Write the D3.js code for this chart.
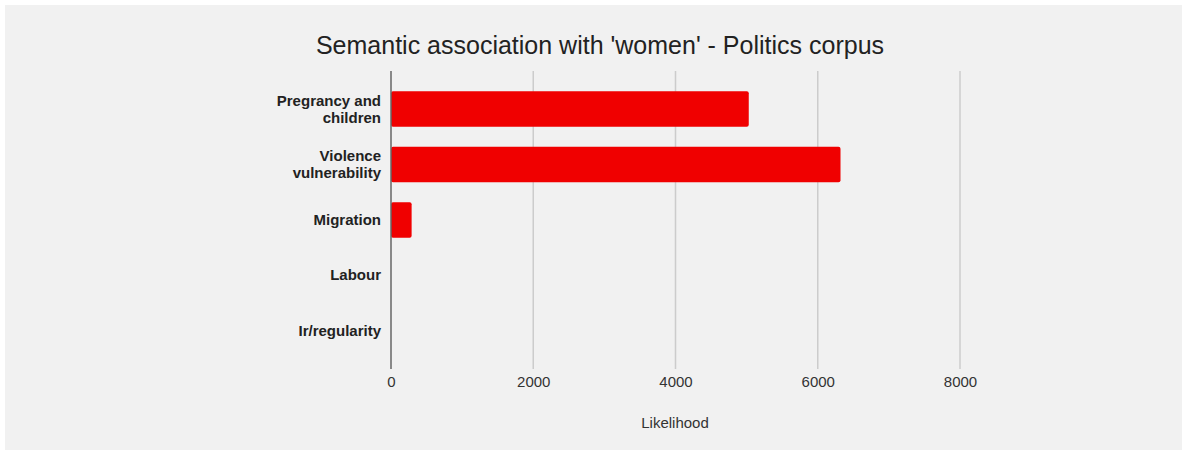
<!DOCTYPE html>
<html>
<head>
<meta charset="utf-8">
<script src="https://cdn.jsdelivr.net/npm/d3@7"></script>
<style>
  html, body { margin: 0; padding: 0; background: #ffffff; }
  svg { display: block; }
  text { font-family: "Liberation Sans", Arial, sans-serif; }
</style>
</head>
<body>
<svg id="chart" width="1187" height="454"></svg>
<script>
const categories = [["Pregrancy and", "children"], ["Violence", "vulnerability"], ["Migration"], ["Labour"], ["Ir/regularity"]];
const categoryKeys = ["Pregrancy and children", "Violence vulnerability", "Migration", "Labour", "Ir/regularity"];
const values = [5030, 6320, 290, 0, 0];
const xTicks = [0, 2000, 4000, 6000, 8000];
const titleText = "Semantic association with 'women' - Politics corpus";
const xLabel = "Likelihood";

const svg = d3.select("#chart");
const W = 1187, H = 454;

svg.append("rect").attr("x", 5).attr("y", 5).attr("width", 1177).attr("height", 445).attr("fill", "#f1f1f1");

const x = d3.scaleLinear().domain([0, 8000]).range([391, 960]);
const y = d3.scaleBand().domain(categoryKeys).range([71, 369]).paddingInner(0.36).paddingOuter(0.365);

// gridlines
const grid = svg.append("g");
grid.selectAll("line").data(xTicks.filter(d => d !== 0)).join("line")
  .attr("x1", d => x(d)).attr("x2", d => x(d))
  .attr("y1", 71).attr("y2", 369)
  .attr("stroke", "#cccccc").attr("stroke-width", 1.5);

// bars
svg.append("g").selectAll("rect").data(values.map((v, i) => ({k: categoryKeys[i], v}))).join("rect")
  .filter(d => d.v > 0)
  .attr("x", x(0))
  .attr("y", d => y(d.k))
  .attr("width", d => x(d.v) - x(0))
  .attr("height", y.bandwidth())
  .attr("rx", 2).attr("ry", 2)
  .attr("fill", "#f00000");

// zero axis line
svg.append("line").attr("x1", x(0)).attr("x2", x(0)).attr("y1", 71).attr("y2", 369)
  .attr("stroke", "#666666").attr("stroke-width", 1.5);

// x tick labels via axis
const xAxis = d3.axisBottom(x).tickValues(xTicks).tickSize(0).tickPadding(0).tickFormat(d3.format("d"));
const gx = svg.append("g").attr("transform", "translate(0,376)").call(xAxis);
gx.select(".domain").remove();
gx.selectAll("text").attr("font-size", 15).attr("fill", "#333333")
  .attr("font-family", "'Liberation Sans', Arial, sans-serif").attr("dy", "0.75em");

// y labels
const yLab = svg.append("g");
categoryKeys.forEach((k, i) => {
  const lines = categories[i];
  const cy = y(k) + y.bandwidth() / 2;
  const lh = 17;
  const t = yLab.append("text")
    .attr("text-anchor", "end")
    .attr("font-size", 15).attr("font-weight", "bold").attr("fill", "#222222");
  lines.forEach((ln, j) => {
    t.append("tspan").attr("x", 381)
      .attr("y", cy + (j - (lines.length - 1) / 2) * lh + 5)
      .text(ln);
  });
});

// title
svg.append("text").attr("x", 600).attr("y", 54).attr("text-anchor", "middle")
  .attr("font-size", 25).attr("fill", "#222222").text(titleText);

// x axis label
svg.append("text").attr("x", 675).attr("y", 428).attr("text-anchor", "middle")
  .attr("font-size", 15).attr("fill", "#333333").text(xLabel);
</script>
</body>
</html>
